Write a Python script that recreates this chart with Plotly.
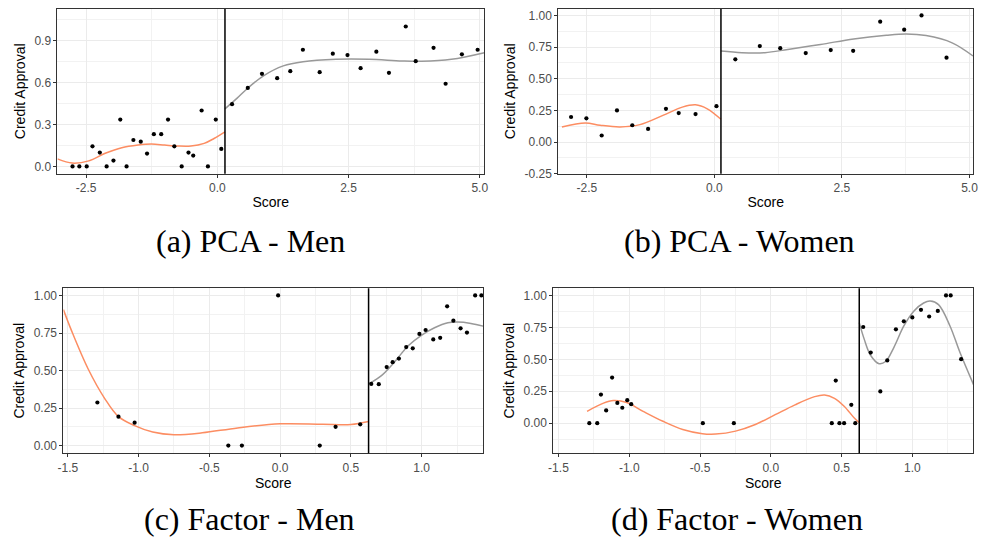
import plotly.graph_objects as go

# ---------------- Data ----------------
# (a) PCA - Men
a_cut = 0.145
a_x = [-2.76, -2.63, -2.49, -2.38, -2.24, -2.11, -1.98, -1.85, -1.73, -1.60, -1.46, -1.34,
       -1.21, -1.07, -0.94, -0.82, -0.68, -0.55, -0.46, -0.30, -0.18, -0.03, 0.075,
       0.28, 0.58, 0.85, 1.14, 1.39, 1.63, 1.95, 2.20, 2.48, 2.73, 3.03, 3.27, 3.59, 3.78,
       4.12, 4.35, 4.66, 4.96]
a_y = [0, 0, 0, 0.144, 0.099, 0, 0.042, 0.335, 0, 0.189, 0.177, 0.092,
       0.231, 0.231, 0.335, 0.144, 0, 0.099, 0.078, 0.40, 0, 0.335, 0.125,
       0.445, 0.561, 0.662, 0.631, 0.681, 0.834, 0.674, 0.806, 0.796, 0.702, 0.820, 0.669, 1.0, 0.752,
       0.848, 0.591, 0.801, 0.834]
a_left_fx = [-3.047, -2.764, -2.450, -2.136, -1.822, -1.508, -1.256, -1.005, -0.754, -0.503, -0.251, -0.063, 0.145]
a_left_fy = [0.054, 0.024, 0.040, 0.094, 0.134, 0.153, 0.160, 0.153, 0.146, 0.146, 0.165, 0.200, 0.247]
a_right_fx = [0.145, 0.377, 0.584, 0.879, 1.256, 1.633, 2.261, 2.889, 3.518, 3.894, 4.460, 5.088]
a_right_fy = [0.412, 0.488, 0.561, 0.648, 0.719, 0.749, 0.766, 0.766, 0.754, 0.752, 0.766, 0.813]

# (b) PCA - Women
b_cut = 0.128
b_x = [-2.81, -2.51, -2.21, -1.91, -1.61, -1.30, -0.95, -0.70, -0.37, 0.04,
       0.41, 0.89, 1.29, 1.79, 2.28, 2.72, 3.25, 3.72, 4.06, 4.55]
b_y = [0.198, 0.188, 0.052, 0.25, 0.133, 0.104, 0.263, 0.229, 0.221, 0.284,
       0.654, 0.758, 0.742, 0.703, 0.727, 0.721, 0.951, 0.888, 1.0, 0.667]
b_left_fx = [-2.99, -2.53, -2.24, -1.85, -1.46, -1.01, -0.63, -0.37, -0.14, 0.128]
b_left_fy = [0.12, 0.151, 0.133, 0.12, 0.138, 0.211, 0.276, 0.294, 0.263, 0.18]
b_right_fx = [0.128, 0.54, 0.99, 1.44, 2.08, 2.73, 3.37, 3.76, 4.15, 4.66, 5.07]
b_right_fy = [0.719, 0.706, 0.706, 0.732, 0.771, 0.815, 0.844, 0.854, 0.841, 0.784, 0.68]

# (c) Factor - Men
c_cut = 0.625
c_x = [-1.291, -1.142, -1.028, -0.014, -0.366, -0.270, 0.280, 0.392, 0.566,
       0.644, 0.697, 0.753, 0.795, 0.839, 0.891, 0.937, 0.984, 1.028, 1.082, 1.131,
       1.180, 1.224, 1.275, 1.320, 1.378, 1.422]
c_y = [0.287, 0.193, 0.153, 1.0, 0, 0, 0, 0.125, 0.142,
       0.411, 0.409, 0.523, 0.556, 0.580, 0.656, 0.648, 0.744, 0.770, 0.707, 0.718,
       0.928, 0.832, 0.781, 0.753, 1.0, 1.0]
c_left_fx = [-1.531, -1.473, -1.357, -1.240, -1.142, -1.028, -0.9, -0.75, -0.55, -0.3, 0.0, 0.3, 0.5, 0.625]
c_left_fy = [0.906, 0.764, 0.512, 0.315, 0.193, 0.133, 0.09, 0.072, 0.085, 0.118, 0.145, 0.142, 0.140, 0.16]
c_right_fx = [0.629, 0.718, 0.811, 0.905, 0.998, 1.091, 1.185, 1.254, 1.348, 1.434]
c_right_fy = [0.413, 0.468, 0.56, 0.665, 0.735, 0.785, 0.818, 0.823, 0.814, 0.796]

# (d) Factor - Women
d_cut = 0.625
d_x = [-1.282, -1.226, -1.200, -1.163, -1.121, -1.084, -1.049, -1.014, -0.986, -0.480, -0.261,
       0.431, 0.459, 0.485, 0.518, 0.569, 0.597,
       0.653, 0.706, 0.774, 0.823, 0.884, 0.940, 1.0, 1.061, 1.119, 1.180, 1.238, 1.271, 1.345]
d_y = [0, 0, 0.224, 0.100, 0.357, 0.159, 0.121, 0.180, 0.149, 0, 0,
       0, 0.334, 0, 0, 0.144, 0,
       0.753, 0.553, 0.249, 0.491, 0.735, 0.797, 0.828, 0.887, 0.835, 0.879, 1.0, 1.0, 0.501]
d_left_fx = [-1.298, -1.182, -1.112, -1.018, -0.902, -0.762, -0.622, -0.483, -0.389, -0.249, -0.109,
             0.031, 0.171, 0.310, 0.380, 0.450, 0.520, 0.590, 0.625]
d_left_fy = [0.093, 0.157, 0.177, 0.162, 0.093, 0.015, -0.049, -0.082, -0.085, -0.062, -0.010,
             0.067, 0.144, 0.208, 0.221, 0.195, 0.131, 0.041, 0.005]
d_right_fx = [0.625, 0.66, 0.706, 0.765, 0.811, 0.870, 0.940, 1.010, 1.080, 1.126, 1.185, 1.266, 1.336, 1.434]
d_right_fy = [0.787, 0.658, 0.530, 0.466, 0.483, 0.594, 0.761, 0.877, 0.941, 0.956, 0.928, 0.761, 0.555, 0.298]

captions = ["(a) PCA - Men", "(b) PCA - Women", "(c) Factor - Men", "(d) Factor - Women"]

# tick settings
ab_xticks = [-2.5, 0.0, 2.5, 5.0]
ab_xlabels = ["-2.5", "0.0", "2.5", "5.0"]
ab_xminor = [-1.25, 1.25, 3.75]
a_yticks = [0.0, 0.3, 0.6, 0.9]
a_ylabels = ["0.0", "0.3", "0.6", "0.9"]
a_yminor = [0.15, 0.45, 0.75, 1.05]
b_yticks = [-0.25, 0.0, 0.25, 0.5, 0.75, 1.0]
b_ylabels = ["-0.25", "0.00", "0.25", "0.50", "0.75", "1.00"]
b_yminor = [-0.125, 0.125, 0.375, 0.625, 0.875]
cd_xticks = [-1.5, -1.0, -0.5, 0.0, 0.5, 1.0]
cd_xlabels = ["-1.5", "-1.0", "-0.5", "0.0", "0.5", "1.0"]
cd_xminor = [-1.25, -0.75, -0.25, 0.25, 0.75, 1.25]
cd_yticks = [0.0, 0.25, 0.5, 0.75, 1.0]
cd_ylabels = ["0.00", "0.25", "0.50", "0.75", "1.00"]
cd_yminor = [-0.125, 0.125, 0.375, 0.625, 0.875]

# ---------------- Figure ----------------
W, H = 982, 547
ORANGE = "#FC8D62"
GREY = "#999999"

panels = [
    dict(x=a_x, y=a_y, lfx=a_left_fx, lfy=a_left_fy, rfx=a_right_fx, rfy=a_right_fy, cut=a_cut,
         px=(52, 483), py=(9, 176), xr=[-3.047, 5.083], yr=[-0.052, 1.126],
         xt=ab_xticks, xl=ab_xlabels, xm=ab_xminor, yt=a_yticks, yl=a_ylabels, ym=a_yminor,
         cap=(247, 244)),
    dict(x=b_x, y=b_y, lfx=b_left_fx, lfy=b_left_fy, rfx=b_right_fx, rfy=b_right_fy, cut=b_cut,
         px=(558, 977), py=(9, 176), xr=[-3.06, 5.07], yr=[-0.25, 1.052],
         xt=ab_xticks, xl=ab_xlabels, xm=ab_xminor, yt=b_yticks, yl=b_ylabels, ym=b_yminor,
         cap=(741, 244)),
    dict(x=c_x, y=c_y, lfx=c_left_fx, lfy=c_left_fy, rfx=c_right_fx, rfy=c_right_fy, cut=c_cut,
         px=(58, 482), py=(292, 459), xr=[-1.531, 1.434], yr=[-0.05, 1.048],
         xt=cd_xticks, xl=cd_xlabels, xm=cd_xminor, yt=cd_yticks, yl=cd_ylabels, ym=cd_yminor,
         cap=(246, 526)),
    dict(x=d_x, y=d_y, lfx=d_left_fx, lfy=d_left_fy, rfx=d_right_fx, rfy=d_right_fy, cut=d_cut,
         px=(553, 977), py=(292, 459), xr=[-1.536, 1.429], yr=[-0.234, 1.056],
         xt=cd_xticks, xl=cd_xlabels, xm=cd_xminor, yt=cd_yticks, yl=cd_ylabels, ym=cd_yminor,
         cap=(739, 526)),
]

fig = go.Figure()
layout = dict(width=W, height=H, margin=dict(l=0, r=0, t=0, b=0),
              paper_bgcolor="white", plot_bgcolor="white", showlegend=False,
              font=dict(family="Liberation Sans, Arial, sans-serif", color="#000000"))
shapes = []
annotations = []

for i, p in enumerate(panels):
    n = "" if i == 0 else str(i + 1)
    xa, ya = "x" + n, "y" + n
    fig.add_trace(go.Scatter(x=p["lfx"], y=p["lfy"], mode="lines", xaxis=xa, yaxis=ya,
                             line=dict(color=ORANGE, width=1.5, shape="spline", smoothing=1.0),
                             hoverinfo="skip"))
    fig.add_trace(go.Scatter(x=p["rfx"], y=p["rfy"], mode="lines", xaxis=xa, yaxis=ya,
                             line=dict(color=GREY, width=1.5, shape="spline", smoothing=1.0),
                             hoverinfo="skip"))
    fig.add_trace(go.Scatter(x=p["x"], y=p["y"], mode="markers", xaxis=xa, yaxis=ya,
                             marker=dict(color="black", size=4.2, line=dict(width=0))))
    shapes.append(dict(type="line", xref=xa, yref=ya + " domain", x0=p["cut"], x1=p["cut"],
                       y0=0, y1=1, line=dict(color="black", width=1.5), layer="above"))
    x0, x1 = p["px"]
    y0, y1 = p["py"]
    common = dict(showline=True, mirror=True, linecolor="#333333", linewidth=1,
                  ticks="outside", ticklen=3, tickcolor="#333333", tickwidth=1,
                  showgrid=True, gridcolor="#EBEBEB", gridwidth=1.1, zeroline=False,
                  tickfont=dict(size=12, color="#4D4D4D", family="Liberation Sans, Arial"),
                  fixedrange=True)
    layout["xaxis" + n] = dict(common, domain=[x0 / W, x1 / W], anchor=ya, range=p["xr"],
                               tickmode="array", tickvals=p["xt"], ticktext=p["xl"],
                               minor=dict(tickmode="array", tickvals=p["xm"], showgrid=True,
                                          gridcolor="#F2F2F2", gridwidth=0.8),
                               title=dict(text="Score", standoff=3,
                                          font=dict(size=14, color="black")))
    layout["yaxis" + n] = dict(common, domain=[(H - y1) / H, (H - y0) / H], anchor=xa, range=p["yr"],
                               tickmode="array", tickvals=p["yt"], ticktext=p["yl"],
                               minor=dict(tickmode="array", tickvals=p["ym"], showgrid=True,
                                          gridcolor="#F2F2F2", gridwidth=0.8),
                               title=dict(text="Credit Approval", standoff=5,
                                          font=dict(size=14, color="black")))
    cx, cy = p["cap"]
    annotations.append(dict(text=captions[i], x=cx / W, y=(H - cy) / H, xref="paper", yref="paper",
                            xanchor="center", yanchor="middle", showarrow=False,
                            font=dict(family="Liberation Serif, Times New Roman, serif", size=32,
                                      color="black")))

layout["shapes"] = shapes
layout["annotations"] = annotations
fig.update_layout(**layout)
fig.write_html("out.html")
